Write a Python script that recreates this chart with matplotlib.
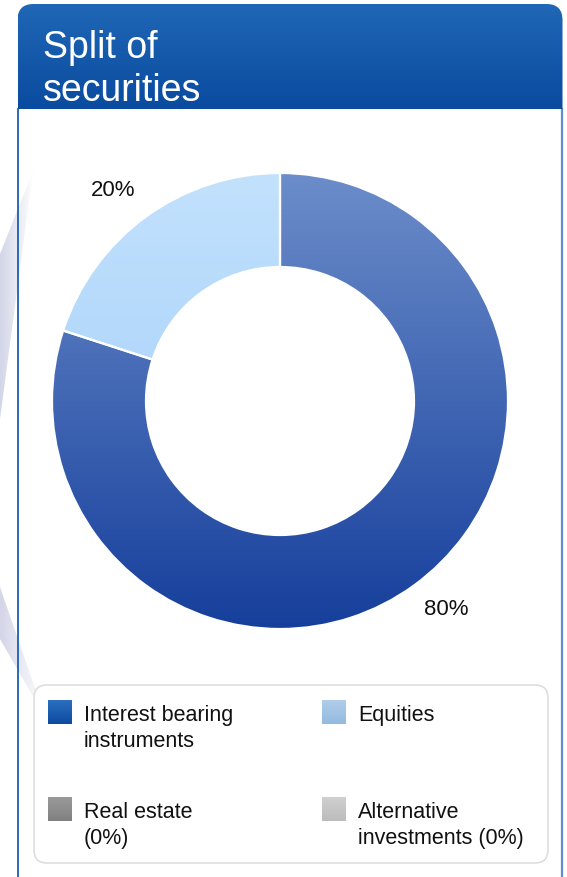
import numpy as np
import matplotlib
matplotlib.use("Agg")
import matplotlib.pyplot as plt
from matplotlib.patches import FancyBboxPatch, Polygon
from matplotlib.colors import LinearSegmentedColormap

plt.rcParams['font.family'] = ['Liberation Sans', 'DejaVu Sans']

# ---- data ----
title_lines = ["Split of", "securities"]
categories = ["Interest bearing\ninstruments", "Equities", "Real estate\n(0%)", "Alternative\ninvestments (0%)"]
values = [80, 20, 0, 0]
pct_labels = ["80%", "20%"]
grad_top = ["#6c8dca", "#c2e1fd", "#9a9a9a", "#d0d0d0"]
grad_bot = ["#163f9c", "#9ccbf8", "#808080", "#bcbcbc"]
legend_top = ["#2b6fc0", "#b0cdea", "#9a9a9a", "#d0d0d0"]
legend_bot = ["#0c4aa0", "#94bae0", "#808080", "#bcbcbc"]

W, H = 567, 878
fig = plt.figure(figsize=(W / 100, H / 100), dpi=100)
bg = fig.add_axes([0, 0, 1, 1])
bg.set_xlim(0, W)
bg.set_ylim(H, 0)
bg.axis('off')

def vgrad(ax, extent, c_top, c_bot, clip=None, z=1):
    cmap = LinearSegmentedColormap.from_list("g", [c_top, c_bot])
    g = np.linspace(0, 1, 256).reshape(-1, 1)
    im = ax.imshow(g, cmap=cmap, extent=extent, aspect='auto', zorder=z, interpolation='bilinear')
    if clip is not None:
        im.set_clip_path(clip)
    return im

# shadow streaks (decorative)
sh_cmap = LinearSegmentedColormap.from_list("s", ["#d3d6e8", "#ffffff"])
p1 = Polygon([(33, 172), (0, 255), (0, 420)], closed=True, facecolor='none', edgecolor='none')
bg.add_patch(p1)
im = bg.imshow(np.linspace(0, 1, 64).reshape(1, -1), cmap=sh_cmap, extent=(0, 35, 420, 172), aspect='auto', zorder=0.5)
im.set_clip_path(p1)
p2 = Polygon([(0, 588), (0, 640), (45, 718)], closed=True, facecolor='none', edgecolor='none')
bg.add_patch(p2)
im = bg.imshow(np.linspace(0, 1, 64).reshape(1, -1), cmap=sh_cmap, extent=(0, 45, 718, 588), aspect='auto', zorder=0.5)
im.set_clip_path(p2)

# panel borders
bg.plot([18, 18], [110, H], color="#1d5fb0", lw=1.3, zorder=2)
bg.plot([561.5, 561.5], [110, H], color="#5c90d2", lw=1.6, zorder=2)

# header with rounded top corners
hdr = FancyBboxPatch((17.5, 5), 545, 140, boxstyle="round,pad=0,rounding_size=16",
                     facecolor='none', edgecolor='none')
bg.add_patch(hdr)
vgrad(bg, (17.5, 562.5, 110, 5), "#2067b6", "#0a4b9f", clip=hdr, z=3)
bg.text(43, 58, title_lines[0], color='white', fontsize=27, va='baseline', ha='left', zorder=4)
bg.text(43, 101, title_lines[1], color='white', fontsize=27, va='baseline', ha='left', zorder=4)

# ---- donut ----
cx, cy, R, r_in = 280, 402, 228, 134
pax = fig.add_axes([(cx - R) / W, (H - cy - R) / H, 2 * R / W, 2 * R / H])
nz = [v for v in values if v > 0]
wedges, _ = pax.pie(nz, startangle=90, counterclock=False, radius=1,
                    wedgeprops=dict(width=(R - r_in) / R, edgecolor='white', linewidth=1.6))
pax.set_xlim(-1, 1)
pax.set_ylim(-1, 1)
pax.set_aspect('auto')
pax.axis('off')
for i, w in enumerate(wedges):
    w.set_facecolor('none')
    w.set_zorder(3)
    vgrad(pax, (-1, 1, -1, 1), grad_top[i], grad_bot[i], clip=w, z=2)

bg.text(113, 190, pct_labels[1], fontsize=16, ha='center', va='center', color='#111111', zorder=5)
bg.text(446, 610, pct_labels[0], fontsize=16, ha='center', va='center', color='#111111', zorder=5)

# ---- legend ----
leg = FancyBboxPatch((34, 686), 514, 178, boxstyle="round,pad=0,rounding_size=13",
                     facecolor='white', edgecolor='#dedede', lw=1.2, zorder=3)
bg.add_patch(leg)
pos = [(48, 701), (322, 701), (48, 798), (322, 798)]
for i, (mx, my) in enumerate(pos):
    vgrad(bg, (mx, mx + 24, my + 24, my), legend_top[i], legend_bot[i], z=4)
    bg.text(mx + 36, my + 4, categories[i], fontsize=15.5, ha='left', va='top',
            color='#111111', linespacing=1.3, zorder=5)

bg.set_xlim(0, W)
bg.set_ylim(H, 0)
fig.savefig("out.png", dpi=100, facecolor='white')
